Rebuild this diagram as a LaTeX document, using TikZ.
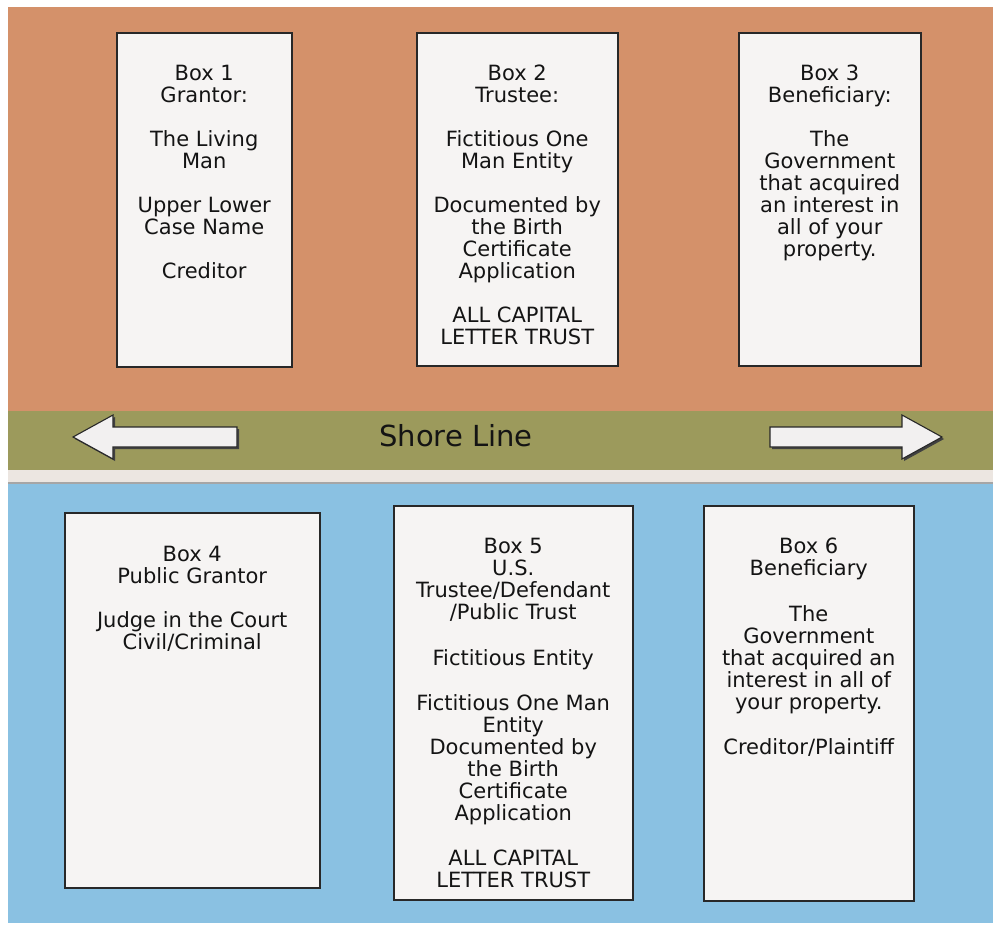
\documentclass[tikz,border=0pt]{standalone}
\usepackage{fontspec}
\setmainfont{DejaVu Sans}
\usetikzlibrary{positioning}
\definecolor{orangebg}{RGB}{212,145,106}
\definecolor{olivebg}{RGB}{156,154,92}
\definecolor{stripbg}{RGB}{236,230,225}
\definecolor{bluebg}{RGB}{138,193,226}
\definecolor{boxfill}{RGB}{246,244,243}
\definecolor{boxline}{RGB}{40,40,40}
\definecolor{txtcol}{RGB}{20,20,20}
\definecolor{arrowfill}{RGB}{242,240,240}
\begin{document}
\begin{tikzpicture}[x=1pt,y=-1pt,
  boxstyle/.style={draw=boxline, line width=1.5pt, fill=boxfill, inner sep=0pt, anchor=north west},
  txt/.style={anchor=north, align=center, inner sep=0pt, text=txtcol, font=\fontsize{21}{22}\selectfont},
  arrowshape/.style={fill=arrowfill, draw=boxline, line width=1.1pt, line join=miter},
  arrowshadow/.style={fill=black!75}]
\useasboundingbox (0,0) rectangle (993,926);
\fill[white] (0,0) rectangle (993,926);
\fill[orangebg] (8,7) rectangle (993,411);
\fill[olivebg] (8,411) rectangle (993,470);
\fill[stripbg] (8,470) rectangle (993,482);
\fill[black!35] (8,482) rectangle (993,484);
\fill[bluebg] (8,484) rectangle (993,923);

% top boxes
\node[boxstyle, minimum width=175pt, minimum height=334pt] (box1) at (116,32) {};
\node[boxstyle, minimum width=201pt, minimum height=333pt] (box2) at (416,32) {};
\node[boxstyle, minimum width=182pt, minimum height=333pt] (box3) at (738,32) {};
% bottom boxes
\node[boxstyle, minimum width=255pt, minimum height=375pt] (box4) at (64,512) {};
\node[boxstyle, minimum width=239pt, minimum height=394pt] (box5) at (393,505) {};
\node[boxstyle, minimum width=210pt, minimum height=395pt] (box6) at (703,505) {};

\node[txt, below=33pt of box1.north] (t1) {Box 1\\Grantor:\\[22pt]The Living\\Man\\[22pt]Upper Lower\\Case Name\\[22pt]Creditor};
\node[txt, below=33pt of box2.north] (t2) {Box 2\\Trustee:\\[22pt]Fictitious One\\Man Entity\\[22pt]Documented by\\the Birth\\Certificate\\Application\\[22pt]ALL CAPITAL\\LETTER TRUST};
\node[txt, below=33pt of box3.north] (t3) {Box 3\\Beneficiary:\\[22pt]The\\Government\\that acquired\\an interest in\\all of your\\property.};
\node[txt, below=34pt of box4.north] (t4) {Box 4\\Public Grantor\\[22pt]Judge in the Court\\Civil/Criminal};
\node[txt, below=33pt of box5.north] (t5) {Box 5\\U.S.\\Trustee/Defendant\\/Public Trust\\[24pt]Fictitious Entity\\[23pt]Fictitious One Man\\Entity\\Documented by\\the Birth\\Certificate\\Application\\[23pt]ALL CAPITAL\\LETTER TRUST};
\node[txt, below=33pt of box6.north] (t6) {Box 6\\Beneficiary\\[24pt]The\\Government\\that acquired an\\interest in all of\\your property.\\[23pt]Creditor/Plaintiff};

% shore line
\node[text=txtcol, font=\fontsize{29}{32}\selectfont, inner sep=0pt] (shore) at (456,436) {Shore Line};

% arrows
\fill[arrowshadow, shift={(2,2)}] (73,437) -- (113,415) -- (113,427) -- (237,427) -- (237,447) -- (113,447) -- (113,459) -- cycle;
\draw[arrowshape] (73,437) -- (113,415) -- (113,427) -- (237,427) -- (237,447) -- (113,447) -- (113,459) -- cycle;
\fill[arrowshadow, shift={(2,2)}] (942,437) -- (902,415) -- (902,427) -- (770,427) -- (770,447) -- (902,447) -- (902,459) -- cycle;
\draw[arrowshape] (942,437) -- (902,415) -- (902,427) -- (770,427) -- (770,447) -- (902,447) -- (902,459) -- cycle;
\end{tikzpicture}
\end{document}
